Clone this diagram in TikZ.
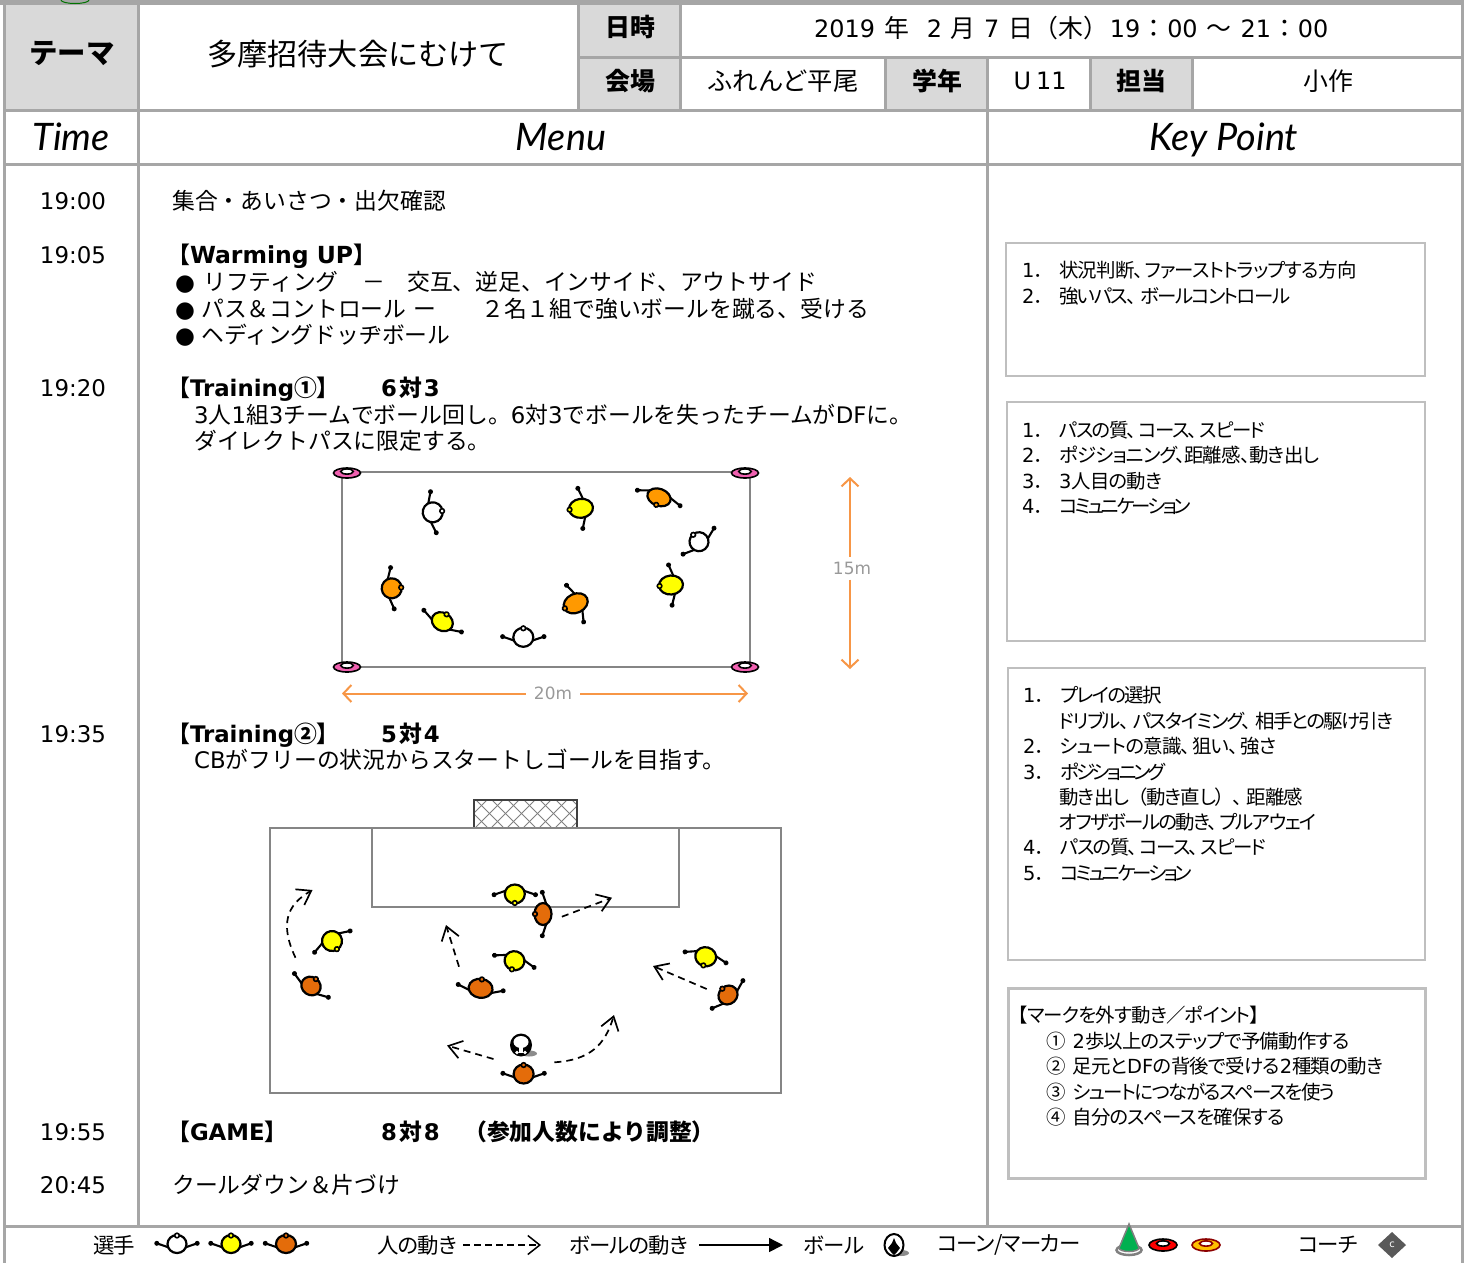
\documentclass[tikz,border=0pt]{standalone}
\usepackage{fontspec}
\usetikzlibrary{arrows.meta}
\setmainfont{Noto Sans CJK JP}
\newfontfamily\jpp[RawFeature=+palt,LetterSpace=-4]{Noto Sans CJK JP}
\newfontfamily\jpk[RawFeature=+palt,LetterSpace=-8]{Noto Sans CJK JP}
\newfontfamily\jpz[RawFeature=+palt,LetterSpace=-15]{Noto Sans CJK JP}
\newfontfamily\vf{DejaVu Sans}
\newfontfamily\hf{Lato}
\definecolor{grid}{HTML}{A6A6A6}
\definecolor{cell}{HTML}{D9D9D9}
\definecolor{pyellow}{HTML}{FFFF00}
\definecolor{porangeA}{HTML}{FF9900}
\definecolor{porangeB}{HTML}{E46C0A}
\definecolor{dimo}{HTML}{F79646}
\definecolor{pinkm}{HTML}{F060B0}
\definecolor{gold}{HTML}{FFC000}
\definecolor{dkred}{HTML}{8B0000}
\definecolor{conegreen}{HTML}{00B050}
\newcommand\V[1]{{\vf #1}}
\newcommand\D[1]{{\vf\fontsize{24}{24}\selectfont #1}}
\newcommand\kpnum[1]{\makebox[37bp][l]{\V{#1}．}}
\tikzset{
  gridline/.style={draw=grid,line width=3bp},
  fieldline/.style={draw=black!48,line width=2bp},
  kpbox/.style={draw=black!25,line width=2bp},
  limb/.style={draw=black,line width=2.1bp,line cap=round},
  menutext/.style={inner sep=0,anchor=west,font=\fontsize{22.9}{24}\selectfont,text height=19bp,text depth=3bp},
  menubold/.style={menutext,font=\fontsize{22.9}{24}\selectfont\bfseries},
  timetext/.style={inner sep=0,font=\vf\fontsize{23}{24}\selectfont},
  celltext/.style={inner sep=0,font=\fontsize{25}{26}\selectfont},
  cellbold/.style={inner sep=0,font=\fontsize{25}{26}\selectfont\bfseries},
  headtext/.style={inner sep=0,anchor=base,font=\hf\itshape\fontsize{38}{40}\selectfont},
  kptext/.style={inner sep=0,anchor=west,font=\jpp\fontsize{19.5}{22}\selectfont,text height=16bp,text depth=3bp},
  kpnarrow/.style={kptext,font=\jpk\fontsize{19.5}{22}\selectfont},
  kptight/.style={kptext,font=\jpz\fontsize{19.5}{22}\selectfont},
  legtext/.style={inner sep=0,font=\jpp\fontsize{21.5}{22}\selectfont},
  dimtext/.style={inner sep=0,text=black!40,font=\vf\fontsize{17}{18}\selectfont},
  dimarrow/.style={draw=dimo,line width=2bp,-{Straight Barb[length=8bp,width=17bp]}},
  moveline/.style={draw=black,line width=1.7bp,dash pattern=on 7bp off 5bp,-{Straight Barb[length=13bp,width=18bp]}},
}
\newcommand\player[6]{%
  \begin{scope}[shift={(#1,#2)},rotate=#3]
    \draw[limb] (-0.9*#4,3.3) -- (-#4-10.7,-0.7);
    \draw[limb] (0.9*#4,3.3) -- (#4+10.7,-0.7);
    \fill (-#4-10.7,-0.7) circle (2.5bp);
    \fill (#4+10.7,-0.7) circle (2.5bp);
    \draw[line width=2.2bp,fill=#6] (0,0) ellipse [x radius=#4bp,y radius=#5bp];
    \draw[line width=1.6bp,fill=#6] (0,-#5+0.5) circle (2.3bp);
  \end{scope}}
\newcommand\marker[6]{% x y fill outline rx ry
  \begin{scope}[shift={(#1,#2)}]
    \draw[line width=1.6bp,draw=#4,fill=#3] (0,0) ellipse [x radius=#5bp,y radius=#6bp];
    \draw[line width=1.6bp,draw=#4,fill=white] (0,-1.5) ellipse [x radius=0.46*#5 bp,y radius=2.6bp];
  \end{scope}}
\begin{document}
\begin{tikzpicture}[x=1bp,y=-1bp]
\useasboundingbox (0,0) rectangle (1469,1263);
\clip (0,0) rectangle (1469,1263);
\fill[white] (0,0) rectangle (1469,1263);
% top band and logo fragment
\fill[grid] (0,0) rectangle (1464,5);
\draw[green!45!black,line width=1bp] (61,0) arc[start angle=180,end angle=360,x radius=14bp,y radius=3.5bp];
% header cells
\fill[cell] (5,5) rectangle (138,110);
\fill[cell] (578,5) rectangle (680,57);
\fill[cell] (578,57) rectangle (680,110);
\fill[cell] (885,57) rectangle (987,110);
\fill[cell] (1090,57) rectangle (1192,110);
% grid
\draw[gridline] (4.5,4) -- (4.5,1263);
\draw[gridline] (1462,4) -- (1462,1263);
\draw[gridline] (138.5,5) -- (138.5,1226);
\draw[gridline] (578,5) -- (578,110);
\draw[gridline] (680,5) -- (680,110);
\draw[gridline] (885,57) -- (885,110);
\draw[gridline] (987.5,57) -- (987.5,1226);
\draw[gridline] (1090,57) -- (1090,110);
\draw[gridline] (1192,57) -- (1192,110);
\draw[gridline] (578,57.5) -- (1462,57.5);
\draw[gridline] (5,110.5) -- (1462,110.5);
\draw[gridline] (5,164.5) -- (1462,164.5);
\draw[gridline] (5,1226) -- (1462,1226);
% header text
\node[cellbold,font=\fontsize{28.5}{30}\selectfont\bfseries] (hTheme) at (72,53) {テーマ};
\node[celltext,font=\fontsize{30.3}{32}\selectfont] (hTitle) at (358,54) {多摩招待大会にむけて};
\node[cellbold] (hDateL) at (630,27) {日時};
\node[cellbold] (hPlaceL) at (630,81) {会場};
\node[celltext,font=\fontsize{25.4}{26}\selectfont] (hPlace) at (783,81) {ふれんど平尾};
\node[cellbold] (hGradeL) at (937,81) {学年};
\node[celltext,font=\vf\fontsize{24}{26}\selectfont] (hGrade) at (1040,81) {U\hspace{5bp}11};
\node[cellbold] (hChargeL) at (1141,81) {担当};
\node[celltext] (hCharge) at (1328,81) {小作};
\node[celltext,anchor=west] (hDate) at (814,28) {\D{2019}\hspace{9bp}年\hspace{18bp}\D{2}\hspace{8bp}月\hspace{9bp}\D{7}\hspace{9bp}日（木）\hspace{2bp}\D{19}\hspace{1bp}：\hspace{1bp}\D{00}\hspace{9bp}～\hspace{9bp}\D{21}\hspace{1bp}：\hspace{1bp}\D{00}};
\node[headtext] (hTime) at (71,150) {Time};
\node[headtext] (hMenu) at (561,150) {Menu};
\node[headtext] (hKey) at (1224,150) {Key Point};
% times
\node[timetext] (t1) at (73,201.5) {19:00};
\node[timetext] (t2) at (73,255) {19:05};
\node[timetext] (t3) at (73,388) {19:20};
\node[timetext] (t4) at (73,734) {19:35};
\node[timetext] (t5) at (73,1132) {19:55};
\node[timetext] (t6) at (73,1185) {20:45};
% menu text
\node[menutext] (m1) at (172,201) {集合・あいさつ・出欠確認};
\node[menubold] (m2a) at (167,255) {【\V{\bfseries\fontsize{23.6}{24}\selectfont Warming UP}】};
\node[menutext] (m3a) at (175,282) {\V{●}};
\node[menutext] (m3b) at (203,282) {リフティング};
\node[menutext] (m3c) at (362,282) {－};
\node[menutext] (m3d) at (407,282) {交互、逆足、インサイド、アウトサイド};
\node[menutext] (m4a) at (175,309) {\V{●}};
\node[menutext] (m4b) at (201,309) {パス＆コントロール\hspace{7bp}ー};
\node[menutext] (m4c) at (481,309) {２名１組で強いボールを蹴る、受ける};
\node[menutext] (m5a) at (175,335) {\V{●}};
\node[menutext] (m5b) at (201,335) {ヘディングドッヂボール};
\node[menubold] (m6a) at (167,388) {【\V{\bfseries Training}①】};
\node[menubold] (m6b) at (381,388) {\V{\bfseries 6}\hspace{2bp}対\hspace{2bp}\V{\bfseries 3}};
\node[menutext] (m7) at (194,415) {\V{3}人\V{1}組\V{3}チームでボール回し。\V{6}対\V{3}でボールを失ったチームが\V{DF}に。};
\node[menutext] (m8) at (194,441) {ダイレクトパスに限定する。};
\node[menubold] (m9a) at (167,734) {【\V{\bfseries Training}②】};
\node[menubold] (m9b) at (381,734) {\V{\bfseries 5}\hspace{2bp}対\hspace{2bp}\V{\bfseries 4}};
\node[menutext] (m10) at (194,760) {\V{CB}がフリーの状況からスタートしゴールを目指す。};
\node[menubold] (m11a) at (167,1132) {【\V{\bfseries GAME}】};
\node[menubold] (m11b) at (381,1132) {\V{\bfseries 8}\hspace{2bp}対\hspace{2bp}\V{\bfseries 8}};
\node[menubold] (m11c) at (464,1132) {（参加人数により調整）};
\node[menutext] (m12) at (172,1185) {クールダウン＆片づけ};
% key point boxes
\draw[kpbox] (1006,243) rectangle (1425,376);
\draw[kpbox] (1007,402) rectangle (1425,641);
\draw[kpbox] (1008,668) rectangle (1425,960);
\draw[kpbox,line width=3bp] (1008,988) rectangle (1425,1178);
\node[kptext] (k11) at (1022,271) {\kpnum{1}状況判断、\hspace{1bp}ファーストトラップする方向};
\node[kpnarrow] (k12) at (1022,297) {\kpnum{2}強いパス、\hspace{4bp}ボールコントロール};
\node[kpnarrow] (k21) at (1022,431) {\kpnum{1}パスの質、\hspace{2bp}コース、\hspace{2bp}スピード};
\node[kptext] (k22) at (1022,456) {\kpnum{2}ポジショニング、距離感、動き出し};
\node[kptext] (k23) at (1022,482) {\kpnum{3}\V{3}人目の動き};
\node[kptight] (k24) at (1022,507) {\kpnum{4}コミュニケーション};
\node[kpnarrow] (k31) at (1023,696) {\kpnum{1}プレイの選択};
\node[kpnarrow] (k32) at (1059,722) {ドリブル、\hspace{4bp}パスタイミング、\hspace{4bp}相手との駆け引き};
\node[kptext] (k33) at (1023,747) {\kpnum{2}シュートの意識、\hspace{2bp}狙い、\hspace{2bp}強さ};
\node[kptight] (k34) at (1023,773) {\kpnum{3}ポジショニング};
\node[kptext] (k35) at (1059,798) {動き出し\hspace{8bp}（動き直し）\hspace{8bp}、\hspace{4bp}距離感};
\node[kpnarrow] (k36) at (1059,823) {オフザボールの動き、\hspace{2bp}プルアウェイ};
\node[kpnarrow] (k37) at (1023,848) {\kpnum{4}パスの質、\hspace{2bp}コース、\hspace{2bp}スピード};
\node[kptight] (k38) at (1023,874) {\kpnum{5}コミュニケーション};
\node[kptext] (k41) at (1018,1016) {【マークを外す動き／ポイント】};
\node[kptext] (k42) at (1046,1042) {①\hspace{7bp}\V{2}歩以上のステップで予備動作する};
\node[kptext] (k43) at (1046,1067) {②\hspace{7bp}足元と\V{DF}の背後で受ける\V{2}種類の動き};
\node[kpnarrow] (k44) at (1046,1093) {③\hspace{7bp}シュートにつながるスペースを使う};
\node[kptext] (k45) at (1046,1118) {④\hspace{7bp}自分のスペースを確保する};
% field 1
\draw[fieldline] (342,472) rectangle (750,667);
\marker{347}{473}{pinkm}{black}{13.5}{5}
\marker{745}{473}{pinkm}{black}{13.5}{5}
\marker{347}{667}{pinkm}{black}{13.5}{5}
\marker{745}{667}{pinkm}{black}{13.5}{5}
\player{432.7}{512.3}{-82}{10}{10}{white}
\player{581}{508.3}{97}{9.5}{12}{pyellow}
\player{659}{497.3}{160}{12}{8.5}{porangeA}
\player{699}{541.7}{40}{9.5}{9.5}{white}
\player{671}{585}{95}{9.5}{12}{pyellow}
\player{575.7}{603.3}{115}{9.5}{12.5}{porangeA}
\player{391.7}{588.3}{-85}{10}{10}{porangeA}
\player{442.3}{621.7}{-30}{11}{9}{pyellow}
\player{523.3}{637.3}{0}{10}{9.5}{white}
% dimensions
\node[dimtext] (d20) at (553,693.5) {20m};
\node[dimtext] (d15) at (852,568) {15m};
\coordinate (d20l) at (342,693.5);
\coordinate (d20r) at (748,693.5);
\coordinate (d15t) at (850,477);
\coordinate (d15b) at (850,669);
\draw[dimarrow] (d20.west) ++(-8,0) -- (d20l);
\draw[dimarrow] (d20.east) ++(8,0) -- (d20r);
\draw[dimarrow] (d15.north) ++(-2,-5) -- (d15t);
\draw[dimarrow] (d15.south) ++(-2,5) -- (d15b);
% field 2
\draw[fieldline] (269.5,827.5) rectangle (781,1093);
\begin{scope}
  \clip (474,800) rectangle (577,827);
  \foreach \k in {-30,-14,...,130} {
    \draw[black!50,line width=1bp] (474+\k,800) -- ++(27,27);
    \draw[black!50,line width=1bp] (474+\k,827) -- ++(27,-27);
  }
\end{scope}
\draw[black!75,line width=1.6bp] (474,827) -- (474,800) -- (577,800) -- (577,827);
\draw[fieldline] (372,827.5) rectangle (679,907);
\player{514.8}{894}{180}{10}{9.5}{pyellow}
\player{543}{914}{90}{11}{8.5}{porangeB}
\player{332}{941}{-149}{10}{10}{pyellow}
\player{514.5}{960.7}{163}{10}{9.5}{pyellow}
\player{311}{986}{-35}{10}{9}{porangeB}
\player{480.6}{988.3}{-8}{12}{9.5}{porangeB}
\player{705.7}{956.7}{165}{10.5}{9.5}{pyellow}
\player{728}{995}{42}{10}{9}{porangeB}
\player{523.6}{1074}{0}{10}{9.5}{porangeB}
\begin{scope}[shift={(521,1045)}]
  \fill[black!45] (8,8.5) ellipse [x radius=8bp,y radius=3bp];
  \fill[black] (0,0) ellipse [x radius=11bp,y radius=11.5bp];
  \fill[white] (0,-3) ellipse [x radius=7.5bp,y radius=6bp];
  \fill[white] (-1.8,0) rectangle (1.8,8);
  \fill[white] (-4,7.5) circle (1.8bp);
  \fill[white] (4,7.5) circle (1.8bp);
\end{scope}
\coordinate (a1s) at (295.5,957.7);
\coordinate (a1e) at (312.5,890);
\coordinate (a2s) at (459,966.7);
\coordinate (a2e) at (446,925);
\coordinate (a3s) at (561.9,916.7);
\coordinate (a3e) at (612,897.7);
\coordinate (a4s) at (706.7,989);
\coordinate (a4e) at (653,966);
\coordinate (a5s) at (493.5,1059);
\coordinate (a5e) at (447,1045.5);
\coordinate (a6s) at (554.4,1062.3);
\coordinate (a6e) at (614,1015);
\draw[moveline] (a1s) .. controls (280,925) and (286,905) .. (a1e);
\draw[moveline] (a2s) -- (a2e);
\draw[moveline] (a3s) -- (a3e);
\draw[moveline] (a4s) -- (a4e);
\draw[moveline] (a5s) -- (a5e);
\draw[moveline] (a6s) .. controls (590,1060) and (605,1045) .. (a6e);
% legend
\node[legtext] (l1) at (114,1245) {選手};
\player{177}{1244}{0}{9.5}{9}{white}
\player{231}{1244}{0}{9.5}{9}{pyellow}
\player{286}{1244}{0}{10}{9}{porangeB}
\node[legtext] (l2) at (417,1245) {人の動き};
\coordinate (l2a) at (463,1245);
\coordinate (l2b) at (541,1245);
\draw[draw=black,line width=1.5bp,dash pattern=on 7bp off 4bp,-{Straight Barb[length=12bp,width=19bp]}] (l2a) -- (l2b);
\node[legtext] (l3) at (629,1245) {ボールの動き};
\coordinate (l3a) at (699,1245);
\coordinate (l3b) at (783,1245);
\draw[draw=black,line width=1.5bp,-{Triangle[length=14bp,width=14bp]}] (l3a) -- (l3b);
\node[legtext] (l4) at (834,1245) {ボール};
\begin{scope}[shift={(894,1245)}]
  \fill[black!45] (7,8) ellipse [x radius=8bp,y radius=3bp];
  \draw[line width=2bp,fill=white] (0,0) ellipse [x radius=9.5bp,y radius=11bp];
  \fill[black] (0,-7) -- (2,-2) -- (6,3) -- (3,7) -- (0,10) -- (-3,7) -- (-6,3) -- (-2,-2) -- cycle;
\end{scope}
\node[legtext] (l5) at (1009,1245) {コーン/マーカー};
\begin{scope}[shift={(1129,1250)}]
  \draw[black!50,line width=2.5bp,fill=white] (0,0) ellipse [x radius=12.5bp,y radius=5bp];
  \draw[black!50,line width=1.5bp,fill=conegreen] (0,-26) -- (-10,-2) arc[start angle=180,end angle=360,x radius=10bp,y radius=3.5bp] -- cycle;
\end{scope}
\marker{1163}{1245}{red}{black}{14}{6}
\marker{1206}{1245}{gold}{dkred}{14}{6}
\node[legtext] (l6) at (1328,1245) {コーチ};
\fill[black!65] (1392,1232) -- (1406,1245) -- (1392,1258) -- (1378,1245) -- cycle;
\node[inner sep=0,text=white,font=\vf\fontsize{10}{10}\selectfont] (l7) at (1392,1245) {c};
\end{tikzpicture}
\end{document}
